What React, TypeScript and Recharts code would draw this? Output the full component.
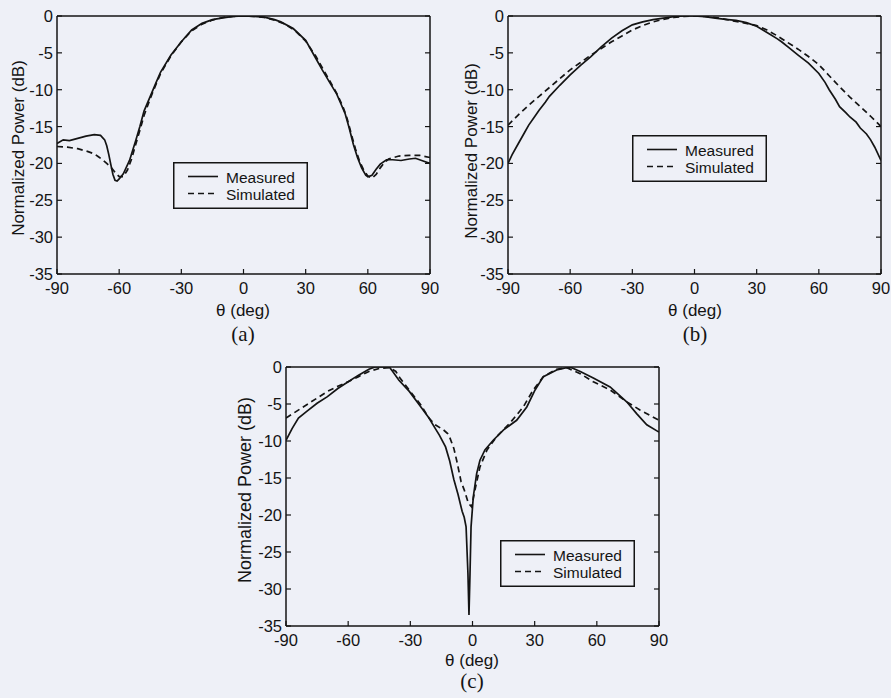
import { LineChart, Line, XAxis, YAxis, Legend } from 'recharts';

type Pt = [number, number];

const thetaTicks = [-90, -60, -30, 0, 30, 60, 90];
const powerTicks = [-35, -30, -25, -20, -15, -10, -5, 0];

// (a)
const measuredA: Pt[] = [
  [-90, -17.3], [-87, -16.8], [-84, -16.9], [-80, -16.6], [-76, -16.3], [-72, -16.1], [-69, -16.2],
  [-67, -16.8], [-66, -17.6], [-65, -18.8], [-64, -20.2], [-63, -21.5], [-62, -22.3], [-61, -22.4],
  [-60, -22.1], [-58, -21.4], [-55, -19.6], [-52, -16.9], [-50, -15.0], [-48, -12.9], [-45, -10.9],
  [-42, -8.9], [-40, -7.6], [-35, -5.3], [-30, -3.5], [-25, -1.9], [-20, -1.0], [-15, -0.5],
  [-10, -0.25], [-5, -0.05], [0, 0], [5, -0.05], [10, -0.15], [15, -0.5], [18, -0.8], [24, -1.7],
  [30, -3.3], [35, -5.8], [38, -7.3], [42, -9.2], [45, -10.6], [47, -11.9], [49, -13.2], [51, -15.2],
  [53, -17.4], [55, -19.2], [57, -20.6], [59, -21.6], [60, -21.8], [62, -21.6], [64, -20.8],
  [66, -20.1], [69, -19.5], [72, -19.5], [76, -19.6], [80, -19.4], [83, -19.3], [86, -19.6], [90, -20.0],
];
const simulatedA: Pt[] = [
  [-90, -17.7], [-85, -17.8], [-80, -18.0], [-75, -18.4], [-72, -18.7], [-70, -19.1], [-68, -19.5],
  [-66, -20.0], [-64, -20.5], [-62, -21.2], [-60, -21.8], [-58, -21.8], [-56, -20.9], [-54, -19.4],
  [-52, -17.4], [-50, -15.5], [-48, -13.5], [-45, -11.2], [-42, -9.1], [-40, -7.8], [-35, -5.4],
  [-30, -3.5], [-25, -2.0], [-20, -1.1], [-15, -0.55], [-10, -0.2], [-5, -0.05], [0, 0], [5, -0.05],
  [10, -0.2], [15, -0.55], [20, -1.1], [25, -2.0], [30, -3.4], [35, -5.5], [40, -8.0], [45, -10.5],
  [48, -12.3], [50, -13.9], [52, -16.0], [54, -18.0], [56, -19.7], [58, -20.9], [60, -21.7],
  [62, -22.0], [64, -21.5], [66, -20.6], [68, -19.9], [70, -19.4], [75, -19.0], [80, -18.9],
  [85, -18.9], [90, -19.2],
];

// (b)
const measuredB: Pt[] = [
  [-90, -20.0], [-88, -18.8], [-85, -17.3], [-82, -15.8], [-80, -14.8], [-77, -13.6], [-75, -12.8],
  [-72, -11.7], [-70, -10.9], [-65, -9.4], [-60, -8.0], [-55, -6.7], [-50, -5.5], [-45, -4.2],
  [-40, -3.0], [-35, -2.0], [-30, -1.2], [-25, -0.8], [-20, -0.5], [-15, -0.3], [-10, -0.1],
  [-5, 0], [0, 0], [5, -0.1], [10, -0.3], [15, -0.45], [20, -0.6], [25, -0.9], [30, -1.4],
  [33, -1.9], [36, -2.4], [40, -3.1], [42, -3.5], [46, -4.4], [50, -5.3], [55, -6.4], [60, -7.8],
  [63, -9.0], [65, -10.0], [68, -11.3], [70, -12.3], [73, -13.1], [75, -13.7], [78, -14.4],
  [80, -15.2], [83, -16.0], [85, -16.8], [87, -17.8], [90, -19.6],
];
const simulatedB: Pt[] = [
  [-90, -14.8], [-85, -13.4], [-80, -12.1], [-75, -10.9], [-70, -9.7], [-65, -8.5], [-60, -7.3],
  [-55, -6.3], [-50, -5.3], [-45, -4.4], [-40, -3.5], [-35, -2.7], [-30, -1.9], [-25, -1.3],
  [-20, -0.8], [-15, -0.45], [-10, -0.2], [-5, -0.05], [0, 0], [5, -0.05], [10, -0.2], [15, -0.45],
  [20, -0.75], [25, -1.0], [30, -1.3], [35, -1.9], [40, -2.7], [45, -3.6], [50, -4.5], [55, -5.5],
  [60, -6.6], [65, -8.1], [70, -9.6], [75, -11.0], [80, -12.3], [85, -13.6], [90, -15.0],
];

// (c)
const measuredC: Pt[] = [
  [-90, -9.9], [-87, -8.3], [-84, -6.9], [-80, -6.0], [-75, -4.9], [-70, -4.0], [-65, -2.9],
  [-60, -2.0], [-55, -1.1], [-50, -0.3], [-47, 0], [-43, 0], [-40, -0.05], [-38.5, -0.6],
  [-35.5, -1.8], [-30.5, -3.3], [-25.7, -5.1], [-21, -6.9], [-18, -8.3], [-16, -9.2], [-13, -10.8],
  [-11, -12.7], [-9, -15.2], [-7, -17.2], [-5, -19.5], [-4, -20.3], [-3.1, -21.6], [-2.2, -27.9],
  [-1.7, -33.5], [-1.2, -27.9], [-0.7, -21.6], [0.4, -17.5], [2, -14.4], [3.6, -12.6], [6, -11.2],
  [10, -9.9], [15, -8.5], [21.3, -7.2], [26.2, -5.4], [30.2, -3.1], [34.2, -1.3], [40.6, -0.4],
  [47, 0], [52, -0.6], [58.3, -1.5], [66.4, -2.7], [74.4, -4.7], [79.2, -6.3], [84.1, -7.8], [90, -8.8],
];
const simulatedC: Pt[] = [
  [-90, -6.9], [-85, -6.0], [-80, -5.1], [-75, -4.2], [-70, -3.3], [-65, -2.6], [-60, -2.0],
  [-55, -1.3], [-50, -0.6], [-45, -0.2], [-40, -0.1], [-37, -0.6], [-35, -1.5], [-30, -3.3],
  [-25, -5.1], [-21, -6.9], [-18, -7.8], [-14, -8.5], [-12, -9.0], [-11, -9.5], [-9, -11.0],
  [-7.5, -12.8], [-5.5, -15.5], [-4, -16.6], [-2, -18.4], [-0.4, -18.9], [1.2, -16.6], [3.6, -13.5],
  [7, -11.2], [11.7, -9.4], [18, -7.6], [24.5, -5.4], [29.3, -3.1], [34.2, -1.3], [40.6, -0.3],
  [45.5, -0.1], [52, -0.9], [58.3, -2.0], [66.4, -3.1], [74.4, -4.7], [80.8, -5.8], [90, -7.2],
];

const INK = '#141414';
const BG = '#eef0f7';
const SANS = '"Liberation Sans", Arial, Helvetica, sans-serif';
const SERIF = '"Liberation Serif", "Times New Roman", serif';

const toRows = (pts: Pt[]) => pts.map(([theta, power]) => ({ theta, power }));

function BottomTick({ x, y, payload }: any) {
  return (
    <g>
      <line x1={x} x2={x} y1={y} y2={y - 5} stroke={INK} strokeWidth={1.2} />
      <text x={x} y={y + 20} textAnchor="middle" fontSize={16.5} fontFamily={SANS} fill={INK}>
        {payload.value}
      </text>
    </g>
  );
}

function TopTick({ x, y }: any) {
  return <line x1={x} x2={x} y1={y} y2={y + 5} stroke={INK} strokeWidth={1.2} />;
}

function LeftTick({ x, y, payload }: any) {
  return (
    <g>
      <line x1={x} x2={x + 5} y1={y} y2={y} stroke={INK} strokeWidth={1.2} />
      <text x={x - 4} y={y + 6} textAnchor="end" fontSize={16.5} fontFamily={SANS} fill={INK}>
        {payload.value}
      </text>
    </g>
  );
}

function RightTick({ x, y }: any) {
  return <line x1={x} x2={x - 5} y1={y} y2={y} stroke={INK} strokeWidth={1.2} />;
}

function LegendBox() {
  return (
    <svg width={135} height={47} style={{ display: 'block' }}>
      <rect x={0.75} y={0.75} width={133.5} height={45.5} fill={BG} stroke={INK} strokeWidth={1.5} />
      <line x1={15} x2={45} y1={14.5} y2={14.5} stroke={INK} strokeWidth={1.6} />
      <line x1={15} x2={45} y1={31.5} y2={31.5} stroke={INK} strokeWidth={1.6} strokeDasharray="6 4" />
      <text x={53} y={20.5} fontSize={15.5} fontFamily={SANS} fill={INK}>Measured</text>
      <text x={53} y={37.5} fontSize={15.5} fontFamily={SANS} fill={INK}>Simulated</text>
    </svg>
  );
}

type PanelProps = {
  left: number;
  top: number;
  width: number;
  height: number;
  margin: { top: number; right: number; bottom: number; left: number };
  measured: Pt[];
  simulated: Pt[];
  legendAt: { left: number; top: number };
};

function Panel({ left, top, width, height, margin, measured, simulated, legendAt }: PanelProps) {
  return (
    <div style={{ position: 'absolute', left, top }}>
      <LineChart width={width} height={height} margin={margin}>
        <XAxis
          dataKey="theta"
          type="number"
          domain={[-90, 90]}
          ticks={thetaTicks}
          interval={0}
          height={1}
          tickSize={0}
          tickMargin={0}
          tick={<BottomTick />}
          axisLine={{ stroke: INK, strokeWidth: 1.5 }}
          allowDataOverflow
        />
        <XAxis
          xAxisId="top"
          orientation="top"
          type="number"
          domain={[-90, 90]}
          ticks={thetaTicks}
          interval={0}
          height={1}
          tickSize={0}
          tickMargin={0}
          tick={<TopTick />}
          axisLine={{ stroke: INK, strokeWidth: 1.5 }}
          allowDataOverflow
        />
        <YAxis
          type="number"
          domain={[-35, 0]}
          ticks={powerTicks}
          interval={0}
          width={1}
          tickSize={0}
          tickMargin={0}
          tick={<LeftTick />}
          axisLine={{ stroke: INK, strokeWidth: 1.5 }}
          allowDataOverflow
        />
        <YAxis
          yAxisId="right"
          orientation="right"
          type="number"
          domain={[-35, 0]}
          ticks={powerTicks}
          interval={0}
          width={1}
          tickSize={0}
          tickMargin={0}
          tick={<RightTick />}
          axisLine={{ stroke: INK, strokeWidth: 1.5 }}
          allowDataOverflow
        />
        <Legend
          layout="horizontal"
          verticalAlign="middle"
          align="center"
          content={() => <LegendBox />}
          wrapperStyle={{ left: legendAt.left, top: legendAt.top, width: 135, height: 47 }}
        />
        <Line
          data={toRows(measured)}
          dataKey="power"
          name="Measured"
          type="linear"
          stroke={INK}
          strokeWidth={1.7}
          dot={false}
          isAnimationActive={false}
        />
        <Line
          data={toRows(simulated)}
          dataKey="power"
          name="Simulated"
          type="linear"
          stroke={INK}
          strokeWidth={1.7}
          strokeDasharray="6 4"
          dot={false}
          isAnimationActive={false}
        />
      </LineChart>
    </div>
  );
}

function Label({ x, y, text, size, rotate, serif }: { x: number; y: number; text: string; size: number; rotate?: boolean; serif?: boolean }) {
  return (
    <div
      style={{
        position: 'absolute',
        left: x,
        top: y,
        transform: `translate(-50%, -50%)${rotate ? ' rotate(-90deg)' : ''}`,
        whiteSpace: 'nowrap',
        fontFamily: serif ? SERIF : SANS,
        fontSize: size,
        lineHeight: 1,
        color: INK,
      }}
    >
      {text}
    </div>
  );
}

export default function App() {
  return (
    <div style={{ position: 'absolute', left: 0, top: 0, width: 891, height: 698, background: BG, overflow: 'hidden' }}>
      <Panel
        left={0}
        top={0}
        width={440}
        height={340}
        margin={{ top: 15, right: 9, bottom: 65, left: 56 }}
        measured={measuredA}
        simulated={simulatedA}
        legendAt={{ left: 173, top: 162 }}
      />
      <Panel
        left={450}
        top={0}
        width={440}
        height={340}
        margin={{ top: 15, right: 8, bottom: 65, left: 57 }}
        measured={measuredB}
        simulated={simulatedB}
        legendAt={{ left: 182, top: 135 }}
      />
      <Panel
        left={220}
        top={340}
        width={450}
        height={358}
        margin={{ top: 26, right: 10, bottom: 71, left: 65 }}
        measured={measuredC}
        simulated={simulatedC}
        legendAt={{ left: 280, top: 200 }}
      />
      <Label x={18} y={148} text="Normalized Power (dB)" size={17} rotate />
      <Label x={471} y={151} text="Normalized Power (dB)" size={17} rotate />
      <Label x={245} y={490} text="Normalized Power (dB)" size={18} rotate />
      <Label x={243} y={310} text="θ (deg)" size={17} />
      <Label x={695} y={310} text="θ (deg)" size={17} />
      <Label x={472} y={660} text="θ (deg)" size={17} />
      <Label x={243} y={334} text="(a)" size={21} serif />
      <Label x={695} y={334} text="(b)" size={21} serif />
      <Label x={472} y={681} text="(c)" size={21} serif />
    </div>
  );
}
